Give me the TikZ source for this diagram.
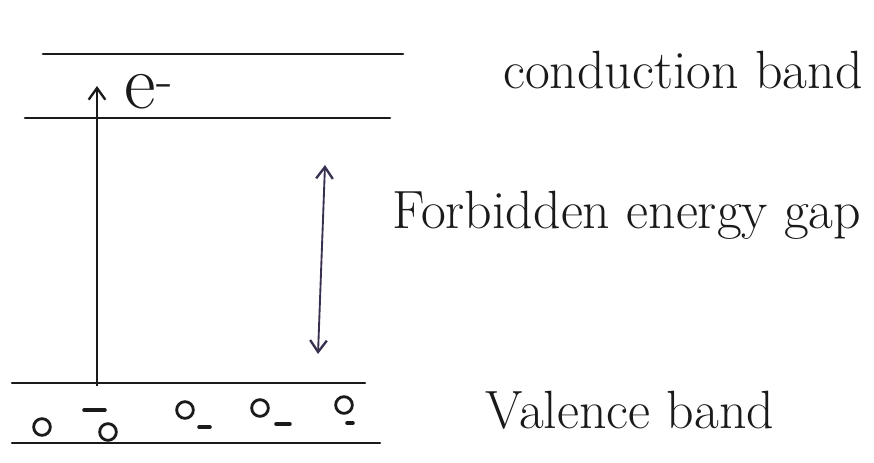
\documentclass[tikz,border=0pt]{standalone}
\usepackage{xcolor}
\usetikzlibrary{arrows.meta,calc,positioning}
\definecolor{Ink}{HTML}{1A1A1A}
\definecolor{PenBlue}{HTML}{3A3050}
\tikzset{
  every picture/.style={line width=1.2pt},
  bandline/.style={draw=Ink, line width=2.2pt, line cap=round},
  hole/.style={circle, draw=Ink, line width=2.4pt, minimum size=5mm, inner sep=0pt},
  electron/.style={draw=Ink, line width=3pt, line cap=round},
  jumparrow/.style={draw=Ink, line width=1.2pt, -{Straight Barb[length=3.5mm, width=5mm, line width=2pt]}},
  gaparrow/.style={draw=PenBlue, line width=1.6pt, {Straight Barb[length=3.5mm, width=5mm, line width=2pt]}-{Straight Barb[length=3.5mm, width=5mm, line width=2pt]}},
  bandlabel/.style={font=\fontsize{46}{50}\selectfont, text=Ink, inner sep=0pt}
}
\begin{document}
\begin{tikzpicture}[x=0.03cm, y=-0.03cm]
  \useasboundingbox (0,0) rectangle (874,462);

  % band edges
  \coordinate (c1) at (43,54);   \coordinate (c2) at (403,54);
  \coordinate (c3) at (25,118);  \coordinate (c4) at (390,118);
  \coordinate (v1) at (12,383);  \coordinate (v2) at (365,383);
  \coordinate (v3) at (12,443);  \coordinate (v4) at (380,443);
  \draw[bandline] (c1) -- (c2);
  \draw[bandline] (c3) -- (c4);
  \draw[bandline] (v1) -- (v2);
  \draw[bandline] (v3) -- (v4);

  % excited electron
  \coordinate (jump0) at (97,386);
  \coordinate (jump1) at (97,86);
  \draw[jumparrow] (jump0) -- (jump1);
  \node[bandlabel, font=\fontsize{66}{70}\selectfont, anchor=base west] (elec) at (124,108) {e\textsuperscript{-}};

  % energy gap
  \coordinate (gap0) at (325,165);
  \coordinate (gap1) at (318,354);
  \draw[gaparrow] (gap0) -- (gap1);

  % holes and electrons in the valence band
  \node[hole] (h1) at (42,427) {};
  \node[hole] (h2) at (108,432) {};
  \node[hole] (h3) at (185,410) {};
  \node[hole] (h4) at (260,408) {};
  \node[hole] (h5) at (344,405) {};
  \draw[electron] (84,410) -- (105,410);
  \draw[electron] (199,427) -- (210,427);
  \draw[electron] (276,424) -- (290,424);
  \draw[electron] (347,423) -- (353,423);

  % labels
  \node[bandlabel] (cb) at (683,70) {conduction band};
  \node[bandlabel] (fg) at (627,215) {Forbidden energy gap};
  \node[bandlabel] (vb) at (630,410) {Valence band};
\end{tikzpicture}
\end{document}
